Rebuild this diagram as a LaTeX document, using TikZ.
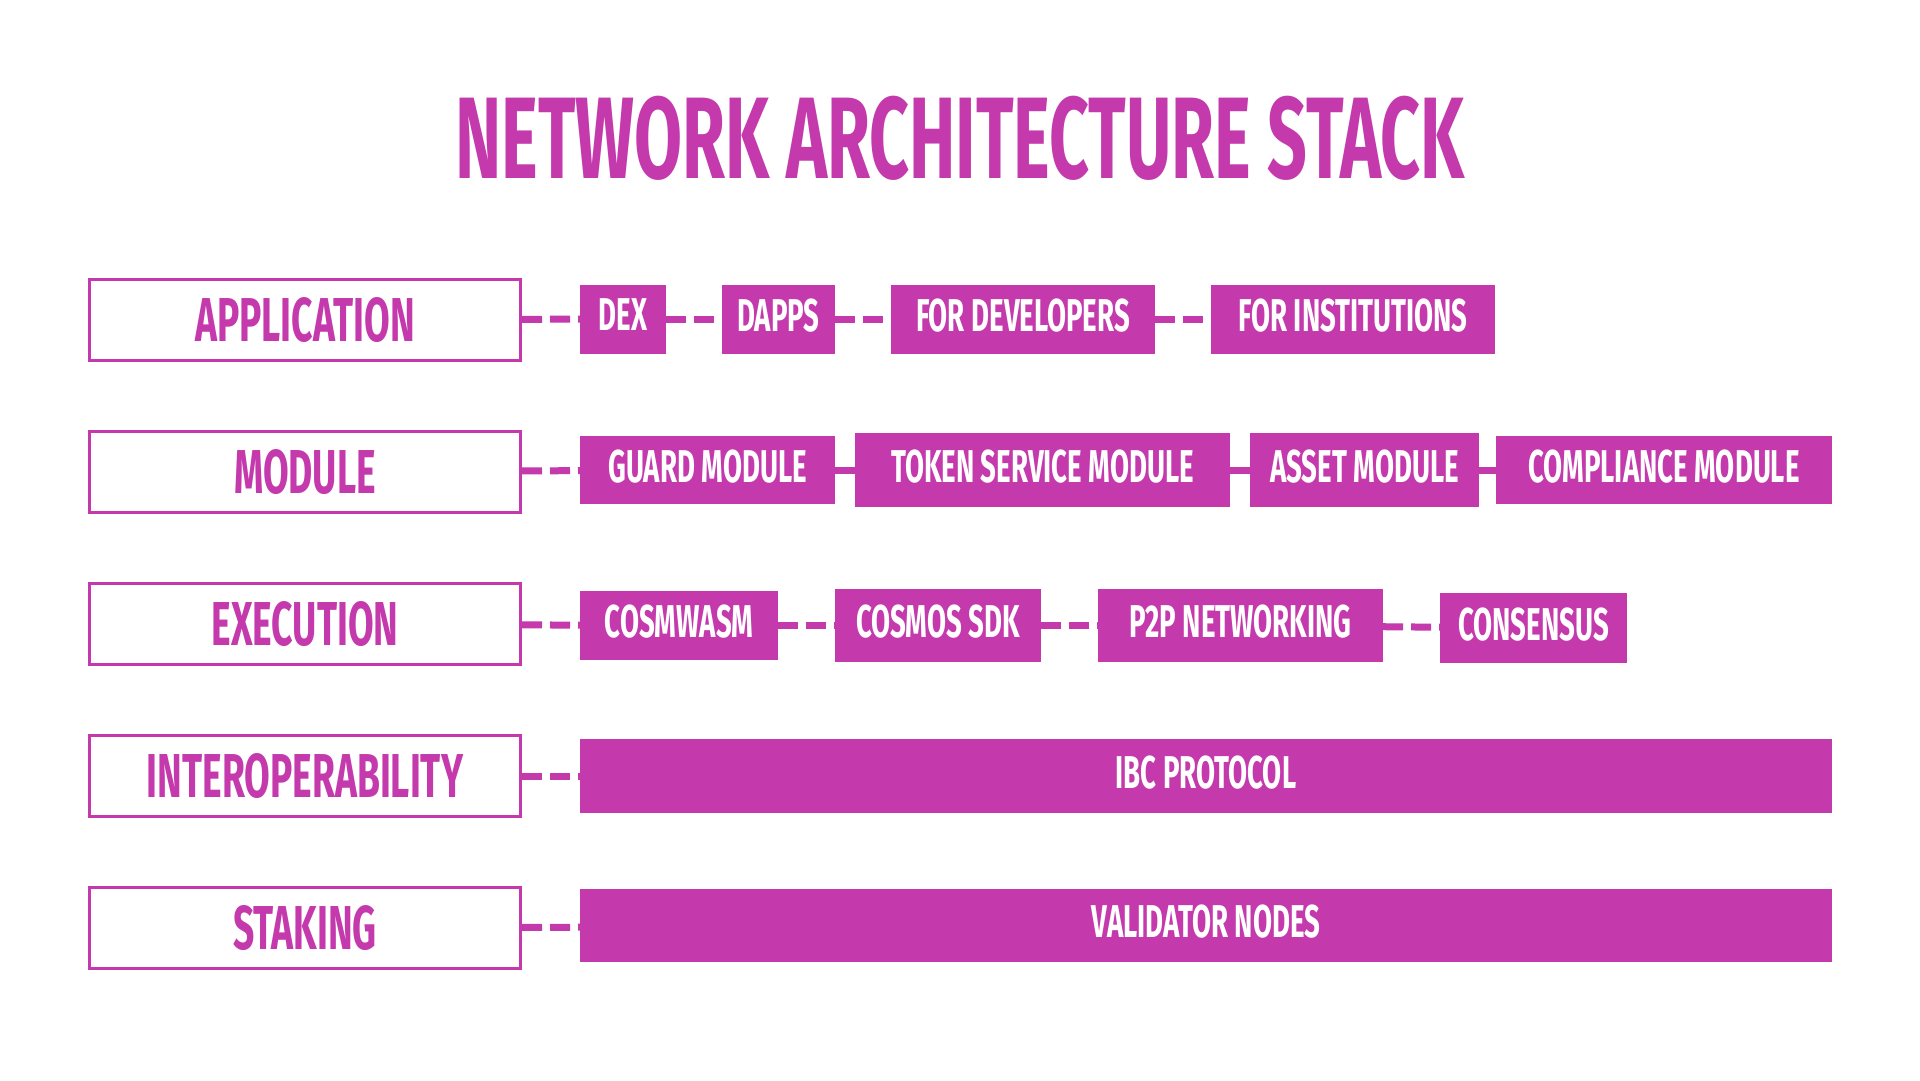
\documentclass[tikz,border=0pt]{standalone}
\usepackage{fontspec}
\newfontfamily\bebas{Fira Sans}[FakeStretch=0.6]
\definecolor{stackpink}{HTML}{C43AAD}
\begin{document}
\begin{tikzpicture}[x=1pt,y=-1pt,
  title/.style={text=stackpink,font=\bebas\bfseries\fontsize{116}{120}\selectfont},
  layer/.style={draw=stackpink,line width=3pt,fill=white,text=stackpink,inner sep=0pt,
    minimum width=431pt,minimum height=81pt,font=\bebas\bfseries\fontsize{62}{66}\selectfont},
  item/.style={fill=stackpink,text=white,inner sep=0pt,minimum height=69pt,text depth=8pt,
    font=\bebas\bfseries\fontsize{46}{50}\selectfont},
  link/.style={draw=stackpink,line width=7pt,dash pattern=on 20pt off 8pt}]
\fill[white] (0,0) rectangle (1920,1080);
\useasboundingbox (0,0) rectangle (1920,1080);
\node[title] (ttl) at (960,138) {NETWORK ARCHITECTURE STACK};
% layers
\node[layer] (app) at (305,320) {APPLICATION};
\node[layer] (mod) at (305,472) {MODULE};
\node[layer] (exe) at (305,624) {EXECUTION};
\node[layer] (ibc) at (305,776) {INTEROPERABILITY};
\node[layer] (stk) at (305,928) {STAKING};
% application row
\node[item,minimum width=86pt] (a1) at (623,319) {DEX};
\node[item,minimum width=113pt] (a2) at (778.5,319) {DAPPS};
\node[item,minimum width=264pt] (a3) at (1023,319) {FOR DEVELOPERS};
\node[item,minimum width=284pt] (a4) at (1353,319) {FOR INSTITUTIONS};
% module row
\node[item,minimum width=255pt,minimum height=68pt] (m1) at (707.5,470) {GUARD MODULE};
\node[item,minimum width=375pt,minimum height=74pt] (m2) at (1042.5,470) {TOKEN SERVICE MODULE};
\node[item,minimum width=229pt,minimum height=74pt] (m3) at (1364.5,470) {ASSET MODULE};
\node[item,minimum width=336pt,minimum height=68pt] (m4) at (1664,470) {COMPLIANCE MODULE};
% execution row
\node[item,minimum width=198pt] (e1) at (679,625.5) {COSMWASM};
\node[item,minimum width=206pt,minimum height=73pt] (e2) at (938,625.5) {COSMOS SDK};
\node[item,minimum width=285pt,minimum height=73pt] (e3) at (1240.5,625.5) {P2P NETWORKING};
\node[item,minimum width=187pt,minimum height=70pt] (e4) at (1533.5,628) {CONSENSUS};
% wide rows
\node[item,minimum width=1252pt,minimum height=74pt] (i1) at (1206,776) {IBC PROTOCOL};
\node[item,minimum width=1252pt,minimum height=73pt] (s1) at (1206,925.5) {VALIDATOR NODES};
% dashed links
\draw[link] (app) -- (a1);
\draw[link] (a1) -- (a2);
\draw[link] (a2) -- (a3);
\draw[link] (a3) -- (a4);
\draw[link] (mod) -- (m1);
\draw[link] (m1) -- (m2);
\draw[link] (m2) -- (m3);
\draw[link] (m3) -- (m4);
\draw[link] (exe) -- (e1);
\draw[link] (e1) -- (e2);
\draw[link] (e2) -- (e3);
\draw[link] (e3) -- (e4);
\draw[link] (ibc) -- (i1);
\draw[link] (stk) -- (s1);
\end{tikzpicture}
\end{document}
